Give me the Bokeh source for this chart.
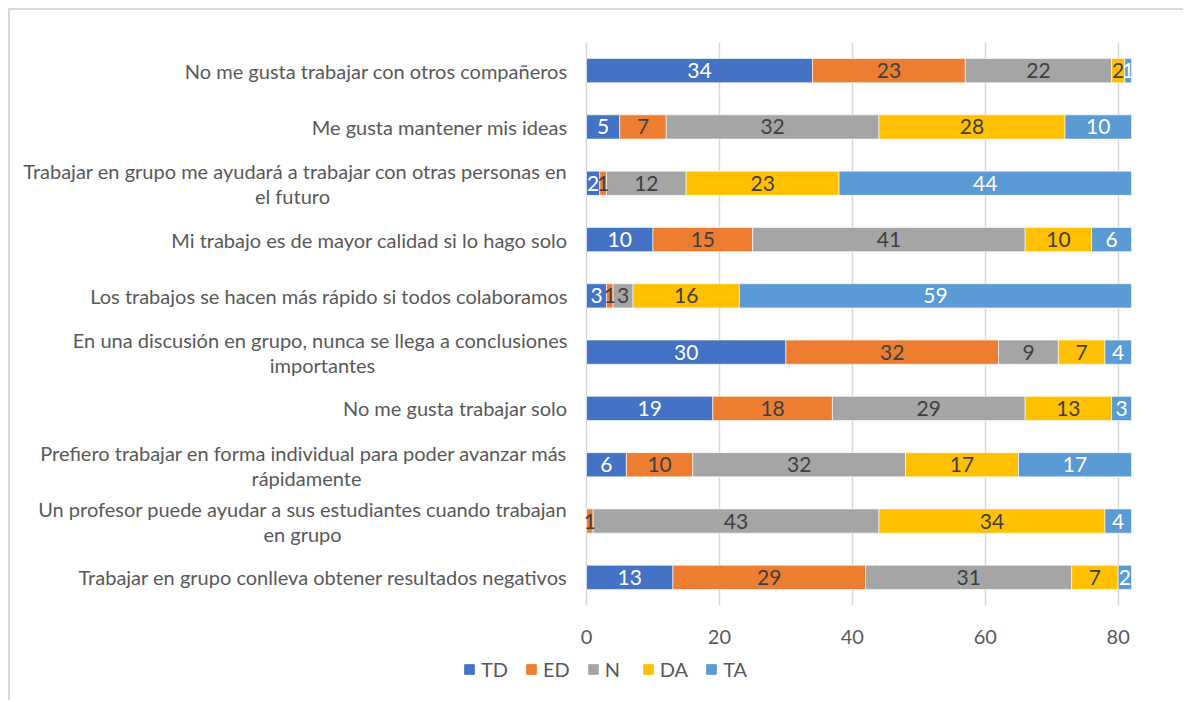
from bokeh.plotting import figure
from bokeh.layouts import column
from bokeh.models import (ColumnDataSource, FactorRange, Range1d, FixedTicker,
                          Legend, LegendItem)
from bokeh.core.properties import value
from bokeh.embed import file_html
from bokeh.resources import INLINE

categories = [
    "No me gusta trabajar con otros compañeros",
    "Me gusta mantener mis ideas",
    "Trabajar en grupo me ayudará a trabajar con otras personas en\nel futuro",
    "Mi trabajo es de mayor calidad si lo hago solo",
    "Los trabajos se hacen más rápido si todos colaboramos",
    "En una discusión en grupo, nunca se llega a conclusiones\nimportantes",
    "No me gusta trabajar solo",
    "Prefiero trabajar en forma individual para poder avanzar más\nrápidamente",
    "Un profesor puede ayudar a sus estudiantes cuando trabajan\nen grupo",
    "Trabajar en grupo conlleva obtener resultados negativos",
]
series = ["TD", "ED", "N", "DA", "TA"]
TD = [34, 5, 2, 10, 3, 30, 19, 6, 0, 13]
ED = [23, 7, 1, 15, 1, 32, 18, 10, 1, 29]
N = [22, 32, 12, 41, 3, 9, 29, 32, 43, 31]
DA = [2, 28, 23, 10, 16, 7, 13, 17, 34, 7]
TA = [1, 10, 44, 6, 59, 4, 3, 17, 4, 2]
x_ticks = [0, 20, 40, 60, 80]

# styles / layout
colors = ["#4472C4", "#ED7D31", "#A5A5A5", "#FFC000", "#5B9BD5"]
label_colors = ["#FFFFFF", "#404040", "#404040", "#404040", "#FFFFFF"]
FONT = "Lato"
TXT = "#595959"
BORDER = "2px solid #d9d9d9"
# the plot frame also spans the label column on the left (576 px) and a
# 54 px right margin; the value axis 0..82 covers 545 px
PX_PER_UNIT = 545 / 82
X_START = -576 / PX_PER_UNIT
X_END = 82 + 54 / PX_PER_UNIT
# horizontal centre (px left of the axis) of the second line of wrapped labels
second_line_centre = {2: -294, 5: -264, 7: -280, 8: -284}

values = {"TD": TD, "ED": ED, "N": N, "DA": DA, "TA": TA}
data = {"cat": categories}
data.update(values)
source = ColumnDataSource(data)

p = figure(
    width=1175, height=640,
    y_range=FactorRange(*reversed(categories)),
    x_range=Range1d(X_START, X_END),
    output_backend="svg", toolbar_location=None,
    min_border_left=0, min_border_right=0,
    min_border_top=32, min_border_bottom=45,
)
p.styles = {"margin-left": "8px", "margin-top": "8px",
            "border-top": BORDER, "border-left": BORDER}
p.outline_line_color = None

renderers = p.hbar_stack(series, y="cat", height=0.43, source=source, color=colors,
                         line_color="white", line_width=0.6)

# data labels
for i, s in enumerate(series):
    xs, ys, ts = [], [], []
    for j, c in enumerate(categories):
        start = sum(values[series[k]][j] for k in range(i))
        v = values[s][j]
        if v == 0:
            continue
        xs.append(start + v / 2)
        ys.append(c)
        ts.append(str(v))
    p.text(x=xs, y=ys, text=ts, text_align="center", text_baseline="middle",
           text_color=label_colors[i], text_font=value(FONT),
           text_font_size="21px")

# category labels
single = {"x": [], "y": [], "t": []}
first = {"x": [], "y": [], "t": []}
second = {"x": [], "y": [], "t": [], "o": []}
for j, c in enumerate(categories):
    parts = c.split("\n")
    if len(parts) == 1:
        single["x"].append(0); single["y"].append(c); single["t"].append(c)
    else:
        first["x"].append(0); first["y"].append(c); first["t"].append(parts[0])
        second["x"].append(0); second["y"].append(c); second["t"].append(parts[1])
        second["o"].append(second_line_centre[j])

common = dict(text_baseline="middle", text_color=TXT, text_font=value(FONT),
              text_font_size="20px")
p.text(x="x", y="y", text="t", source=ColumnDataSource(single),
       x_offset=-19, text_align="right", **common)
p.text(x="x", y="y", text="t", source=ColumnDataSource(first),
       x_offset=-19, y_offset=-12, text_align="right", **common)
p.text(x="x", y="y", text="t", source=ColumnDataSource(second),
       x_offset="o", y_offset=13, text_align="center", **common)

p.yaxis.visible = False
p.ygrid.grid_line_color = None
p.xgrid.grid_line_color = "#d9d9d9"
p.xgrid.grid_line_width = 1.5
p.xaxis.ticker = FixedTicker(ticks=x_ticks)
p.xaxis.axis_line_color = None
p.xaxis.major_tick_line_color = None
p.xaxis.minor_tick_line_color = None
p.xaxis.major_label_standoff = 18
p.xaxis.major_label_text_font = FONT
p.xaxis.major_label_text_font_size = "20px"
p.xaxis.major_label_text_color = TXT

# legend strip underneath the chart (swatch renderers lie outside its view)
p2 = figure(width=1175, height=52, x_range=Range1d(0, 1), y_range=Range1d(0, 1),
            output_backend="svg", toolbar_location=None,
            min_border_left=0, min_border_right=0, min_border_top=0,
            min_border_bottom=0)
p2.styles = {"margin-left": "8px", "border-left": BORDER}
p2.outline_line_color = None
p2.axis.visible = False
p2.grid.visible = False
swatches = [p2.hbar(y=[-5], left=[0], right=[1], height=1, color=c) for c in colors]

lg = Legend(items=[LegendItem(label=s, renderers=[r]) for s, r in zip(series, swatches)])
lg.orientation = "horizontal"
lg.location = (453, 19)
lg.border_line_color = None
lg.background_fill_alpha = 0
lg.label_text_font = FONT
lg.label_text_font_size = "20px"
lg.label_text_color = TXT
lg.glyph_width = 12
lg.glyph_height = 12
lg.spacing = 17
lg.label_standoff = 6
lg.padding = 0
lg.margin = 0
p2.add_layout(lg)

layout = column(p, p2, spacing=0)
open("out.html", "w").write(file_html(layout, INLINE))
